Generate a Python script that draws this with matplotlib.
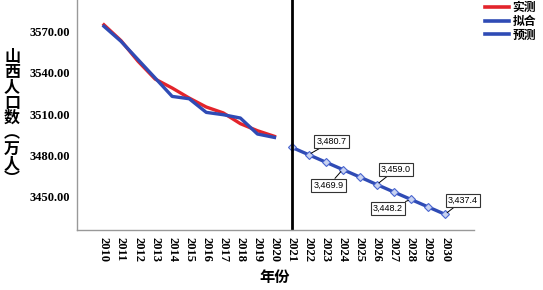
import numpy as np
import matplotlib.pyplot as plt

plt.rcParams['font.family'] = ['Liberation Serif', 'Noto Sans CJK SC']

# data
years_obs = list(range(2010, 2021))
actual = [3575.0, 3563.5, 3548.5, 3535.6, 3529.1, 3521.8, 3515.3, 3511.0, 3503.2, 3498.1, 3494.0]
fitted = [3573.9, 3563.0, 3549.7, 3536.4, 3523.0, 3521.3, 3511.4, 3509.7, 3507.3, 3495.7, 3493.2]
years_fc = list(range(2021, 2031))
forecast = [3486.1, 3480.7, 3475.3, 3469.9, 3464.5, 3459.0, 3453.6, 3448.2, 3442.8, 3437.4]
label_years = [2022, 2024, 2026, 2028, 2030]
label_offsets = [(23, 13), (-14, -16), (19, 15), (-23, -9), (18, 14)]

red = '#e3242b'
blue = '#2f4bb5'

fig = plt.figure(figsize=(5.43, 2.90), dpi=100)
ax = fig.add_axes([77 / 543, 60 / 290, 397 / 543, 230 / 290])

ax.plot(years_obs, actual, color=red, lw=2.4, label='实测')
ax.plot(years_obs, fitted, color=blue, lw=2.4, label='拟合')
ax.plot(years_fc, forecast, color=blue, lw=2.4, marker='D', markersize=3.8,
        mfc='#c8d2f0', mec='#4a66d0', mew=0.8, label='预测')
ax.axvline(2021, color='black', lw=2)

for yr, (dx, dy) in zip(label_years, label_offsets):
    v = forecast[years_fc.index(yr)]
    ax.annotate(f'{v:,.1f}', (yr, v), xytext=(dx, dy), textcoords='offset pixels',
                ha='center', va='center', fontsize=6.5, family='Liberation Sans',
                bbox=dict(boxstyle='square,pad=0.25', fc='white', ec='#333333', lw=0.8),
                arrowprops=dict(arrowstyle='-', color='black', lw=0.7, shrinkA=0, shrinkB=2))

ax.set_xlim(2008.42, 2031.7)
ax.set_ylim(3426, 3593)
ax.set_yticks([3450, 3480, 3510, 3540, 3570])
ax.set_yticklabels([f'{t:.2f}' for t in [3450, 3480, 3510, 3540, 3570]],
                   fontsize=9, fontweight='bold')
ax.set_xticks(list(range(2010, 2031)))
ax.set_xticklabels([str(y) for y in range(2010, 2031)], rotation=-90,
                   fontsize=9, fontweight='bold')
ax.tick_params(length=0, pad=5)

for s in ['top', 'right']:
    ax.spines[s].set_visible(False)
for s in ['left', 'bottom']:
    ax.spines[s].set_color('#999999')
    ax.spines[s].set_linewidth(1)

fig.text(12 / 543, 1 - 118 / 290, '山\n西\n人\n口\n数\n︵\n万\n人\n︶', ha='center', va='center',
         fontsize=11.5, fontweight='bold', family='Noto Sans CJK SC', linespacing=0.95)
fig.text(275 / 543, 1 - 277 / 290, '年份', ha='center', va='center', fontsize=11,
         fontweight='bold', family='Noto Sans CJK SC')

leg = fig.legend(loc='upper right', bbox_to_anchor=(1.0, 1.02), frameon=False,
                 prop={'family': 'Noto Sans CJK SC', 'weight': 'bold', 'size': 8.5},
                 handlelength=2.0, handletextpad=0.3, labelspacing=0.05, borderaxespad=0.2)
for h in leg.get_lines():
    h.set_marker('')
    h.set_linewidth(2.6)

fig.savefig('out.png', dpi=100)
